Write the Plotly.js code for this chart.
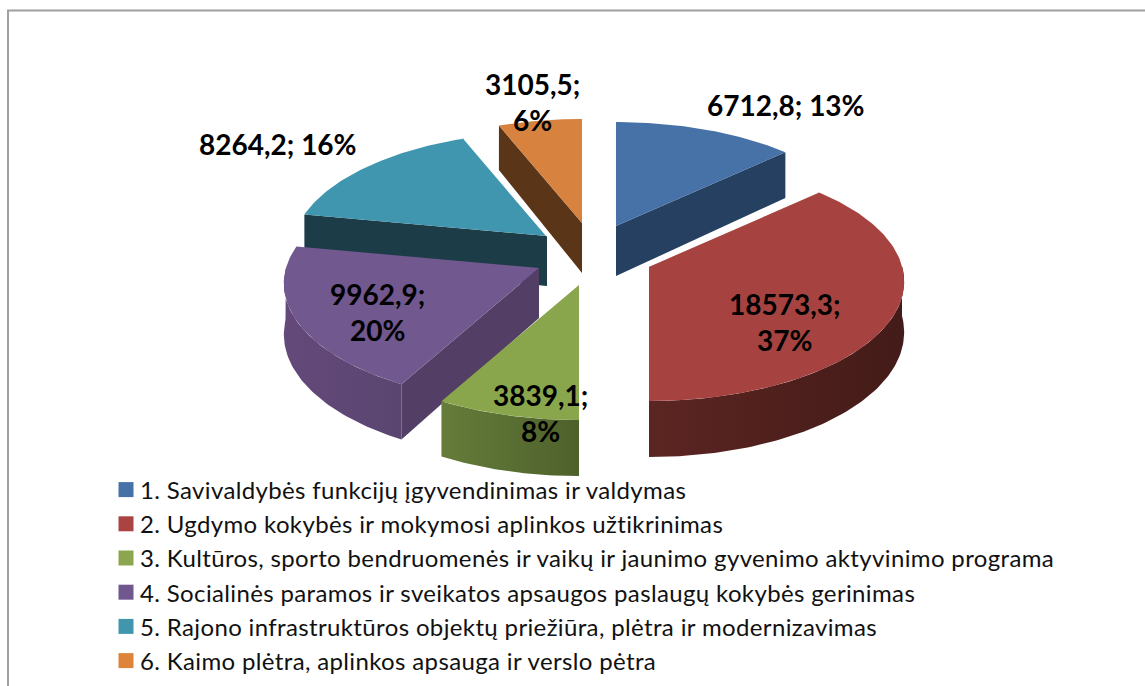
<!DOCTYPE html>
<html><head><meta charset="utf-8">
<script src="https://cdn.plot.ly/plotly-3.0.1.min.js"></script>
<style>html,body{margin:0;padding:0;background:#fff}
#chart .legendtext{letter-spacing:.36px}</style></head>
<body><div id="chart" style="width:1145px;height:686px"></div>
<script>
const categories = [
 "1. Savivaldybės funkcijų įgyvendinimas ir valdymas",
 "2. Ugdymo kokybės ir mokymosi aplinkos užtikrinimas",
 "3. Kultūros, sporto bendruomenės ir vaikų ir jaunimo gyvenimo aktyvinimo programa",
 "4. Socialinės paramos ir sveikatos apsaugos paslaugų kokybės gerinimas",
 "5. Rajono infrastruktūros objektų priežiūra, plėtra ir modernizavimas",
 "6. Kaimo plėtra, aplinkos apsauga ir verslo pėtra"];
const values = [6712.8, 18573.3, 3839.1, 9962.9, 8264.2, 3105.5];
const percents = [13, 37, 8, 20, 16, 6];
const sliceLabels = ["6712,8; 13%","18573,3;<br>37%","3839,1;<br>8%","9962,9;<br>20%","8264,2; 16%","3105,5;<br>6%"];

// styling and projection
const topColors  = ["#4672A8","#A64340","#8AA64C","#71588F","#4196AF","#D7823F"];
const swatches   = ["#4672A8","#A94442","#8BA64E","#71578F","#4196AE","#DE843A"];
const faceColors = ["#254061","#4A1C1A","#5F7333","#533F66","#1C3C48","#5A3518"];
const rimGrad = {1:["#5C2522","#431B18"],2:["#657C3A","#4E612B"],3:["#64497A","#5A4570"]};
const apexX = [616,649,579,539,547,582];
const apexY = [226,266,285,268,236,223];
const labelX = [786,785,540,377,278,532];
const labelY = [105,322,413,312,144,102];
const A=253,B=117.5,K=0.13;
const FONT="Lato, Carlito, sans-serif";
const rad=d=>d*Math.PI/180;
function pt(i,deg){const u=Math.sin(rad(deg)),v=-Math.cos(rad(deg)),p=1/(1-K*v);
  return {x:apexX[i]+A*u*p,y:apexY[i]+B*v*p,d:50+6*v};}
function arc(i,a,b){const o=[];const n=Math.max(2,Math.ceil(Math.abs(b-a)));for(let k=0;k<=n;k++)o.push(pt(i,a+(b-a)*k/n));return o;}
const bounds=[];let cum=0;const tot=percents.reduce((s,v)=>s+v,0);
percents.forEach(p=>{bounds.push([cum/tot*360,(cum+p)/tot*360]);cum+=p;});
const traces=[];
function poly(xs,ys,color,grad){const t={x:xs,y:ys,mode:'lines',fill:'toself',fillcolor:color,line:{width:0,color:color},hoverinfo:'skip',showlegend:false,type:'scatter'};
  if(grad)t.fillgradient={type:'horizontal',colorscale:[[0,grad[0]],[1,grad[1]]]};traces.push(t);}
function topFace(i){const a=arc(i,bounds[i][0],bounds[i][1]);poly([apexX[i],...a.map(p=>p.x),apexX[i]],[apexY[i],...a.map(p=>p.y),apexY[i]],topColors[i]);}
function radial(i,deg){const c=pt(i,deg);poly([apexX[i],c.x,c.x,apexX[i],apexX[i]],[apexY[i],c.y,c.y+c.d,apexY[i]+50,apexY[i]],faceColors[i]);}
function rim(i,a,b){const r=arc(i,a,b);const xs=r.map(p=>p.x),ys=r.map(p=>p.y);const rev=r.slice().reverse();
  poly([...xs,...rev.map(p=>p.x),xs[0]],[...ys,...rev.map(p=>p.y+p.d),ys[0]],faceColors[i],rimGrad[i]);}
function edge(i,deg){const c=pt(i,deg);traces.push({x:[apexX[i],c.x],y:[apexY[i],c.y],mode:'lines',line:{color:'#fff',width:1.5},hoverinfo:'skip',showlegend:false,type:'scatter'});}
// back to front
radial(5,bounds[5][0]);topFace(5);
radial(4,bounds[4][0]);topFace(4);edge(4,bounds[4][1]);
radial(0,bounds[0][1]);topFace(0);
rim(1,90,bounds[1][1]);topFace(1);edge(1,bounds[1][0]);
radial(3,bounds[3][0]);rim(3,bounds[3][0],270);topFace(3);
rim(2,bounds[2][0],bounds[2][1]);topFace(2);
// legend entries
categories.forEach((c,i)=>traces.push({x:[null],y:[null],type:'scatter',mode:'markers',name:c,
  marker:{symbol:'square',size:15,color:swatches[i]},hoverinfo:'skip',customdata:[values[i]]}));
const layout={width:1145,height:686,margin:{l:0,r:0,t:0,b:0},paper_bgcolor:'#fff',plot_bgcolor:'#fff',
 xaxis:{range:[0,1145],visible:false,fixedrange:true},yaxis:{range:[686,0],visible:false,fixedrange:true},
 showlegend:true,
 legend:{x:100/1145,y:2.5/686,xanchor:'left',yanchor:'bottom',bgcolor:'rgba(0,0,0,0)',tracegroupgap:0,itemclick:false,itemdoubleclick:false,
   font:{family:FONT,size:24,color:'#111'}},
 shapes:[{type:'line',xref:'x',yref:'y',x0:7,x1:1145,y0:10.5,y1:10.5,line:{color:'#A0A0A0',width:2}},
         {type:'line',xref:'x',yref:'y',x0:8,x1:8,y0:10,y1:686,line:{color:'#A0A0A0',width:2}}],
 annotations:sliceLabels.map((t,i)=>({x:labelX[i],y:labelY[i],xref:'x',yref:'y',text:'<b>'+t+'</b>',showarrow:false,align:'center',
   xanchor:'center',yanchor:'middle',font:{family:FONT,size:28,color:'#000'}}))};
Plotly.newPlot('chart',traces,layout,{staticPlot:true,displayModeBar:false}).then(()=>{
  document.querySelectorAll('#chart .legend .legendsymbols').forEach(s=>s.setAttribute('transform','translate(6,0)'));
  document.querySelectorAll('#chart .legend, #chart .legend [clip-path]').forEach(n=>n.removeAttribute('clip-path'));
});
</script></body></html>
